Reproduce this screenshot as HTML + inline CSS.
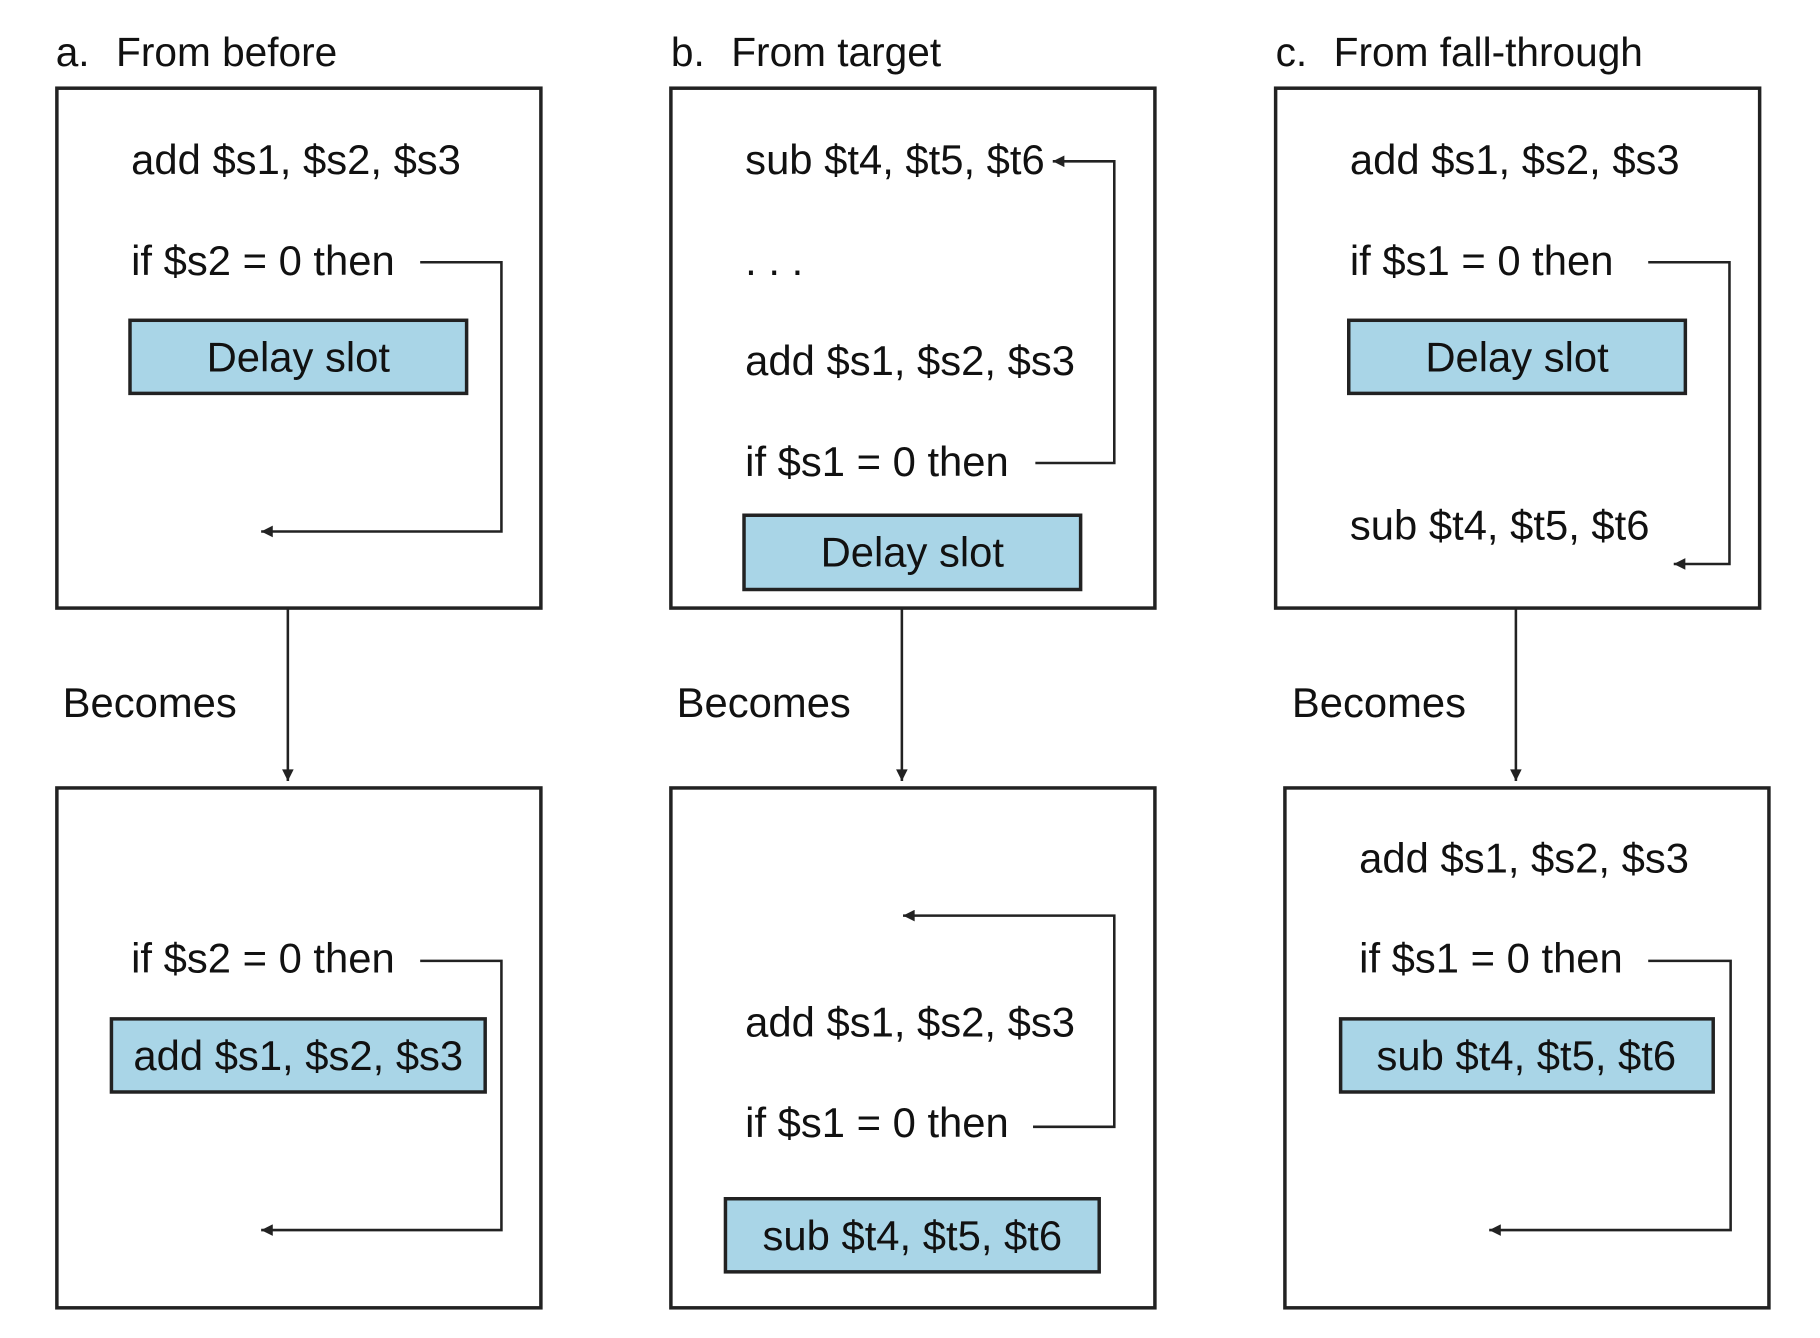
<!DOCTYPE html>
<html><head><meta charset="utf-8"><style>
html,body{margin:0;padding:0;background:#fff}
svg{display:block}
text{font-family:"Liberation Sans",sans-serif;fill:#111}
.t{font-size:36px}
.h{font-size:35px}
.box{fill:none;stroke:#222;stroke-width:3}
.slot{fill:#a9d5e7;stroke:#222;stroke-width:3}
.ln{fill:none;stroke:#222;stroke-width:2.2}
</style></head><body>
<svg width="1820" height="1338" viewBox="0 0 1568 1153" preserveAspectRatio="none">
<defs><marker id="ah" viewBox="0 0 10 10" refX="10" refY="5" markerWidth="22" markerHeight="10" markerUnits="userSpaceOnUse" orient="auto"><path d="M0,0L10,5L0,10z" fill="#222"/></marker></defs>

<g>
<text class="h" x="48" y="57">a.</text>
<text class="h" x="100" y="57">From before</text>
<rect class="box" x="49" y="76" width="417" height="448"/>
<text class="t" x="113" y="150">add $s1, $s2, $s3</text>
<text class="t" x="113" y="237">if $s2 = 0 then</text>
<rect class="slot" x="112" y="276" width="290" height="63"/>
<text class="t" x="257" y="320" text-anchor="middle">Delay slot</text>
<path class="ln" d="M362,226H432V458H225" marker-end="url(#ah)"/>
<path class="ln" d="M248,524V673" marker-end="url(#ah)"/>
<text class="t" x="54" y="618">Becomes</text>
<rect class="box" x="49" y="679" width="417" height="448"/>
<text class="t" x="113" y="838">if $s2 = 0 then</text>
<rect class="slot" x="96" y="878" width="322" height="63"/>
<text class="t" x="257" y="922" text-anchor="middle">add $s1, $s2, $s3</text>
<path class="ln" d="M362,828H432V1060H225" marker-end="url(#ah)"/>
</g>

<g>
<text class="h" x="578" y="57">b.</text>
<text class="h" x="630" y="57">From target</text>
<rect class="box" x="578" y="76" width="417" height="448"/>
<text class="t" x="642" y="150">sub $t4, $t5, $t6</text>
<text class="t" x="642" y="237">. . .</text>
<text class="t" x="642" y="323">add $s1, $s2, $s3</text>
<text class="t" x="642" y="410">if $s1 = 0 then</text>
<rect class="slot" x="641" y="444" width="290" height="64"/>
<text class="t" x="786" y="488" text-anchor="middle">Delay slot</text>
<path class="ln" d="M892,399H960V139H907" marker-end="url(#ah)"/>
<path class="ln" d="M777,524V673" marker-end="url(#ah)"/>
<text class="t" x="583" y="618">Becomes</text>
<rect class="box" x="578" y="679" width="417" height="448"/>
<text class="t" x="642" y="893">add $s1, $s2, $s3</text>
<text class="t" x="642" y="980">if $s1 = 0 then</text>
<rect class="slot" x="625" y="1033" width="322" height="63"/>
<text class="t" x="786" y="1077" text-anchor="middle">sub $t4, $t5, $t6</text>
<path class="ln" d="M890,971H960V789H778" marker-end="url(#ah)"/>
</g>

<g>
<text class="h" x="1099" y="57">c.</text>
<text class="h" x="1149" y="57">From fall-through</text>
<rect class="box" x="1099" y="76" width="417" height="448"/>
<text class="t" x="1163" y="150">add $s1, $s2, $s3</text>
<text class="t" x="1163" y="237">if $s1 = 0 then</text>
<rect class="slot" x="1162" y="276" width="290" height="63"/>
<text class="t" x="1307" y="320" text-anchor="middle">Delay slot</text>
<text class="t" x="1163" y="465">sub $t4, $t5, $t6</text>
<path class="ln" d="M1420,226H1490V486H1442" marker-end="url(#ah)"/>
<path class="ln" d="M1306,524V673" marker-end="url(#ah)"/>
<text class="t" x="1113" y="618">Becomes</text>
<rect class="box" x="1107" y="679" width="417" height="448"/>
<text class="t" x="1171" y="752">add $s1, $s2, $s3</text>
<text class="t" x="1171" y="838">if $s1 = 0 then</text>
<rect class="slot" x="1155" y="878" width="321" height="63"/>
<text class="t" x="1315" y="922" text-anchor="middle">sub $t4, $t5, $t6</text>
<path class="ln" d="M1420,828H1491V1060H1283" marker-end="url(#ah)"/>
</g>
</svg>
</body></html>
